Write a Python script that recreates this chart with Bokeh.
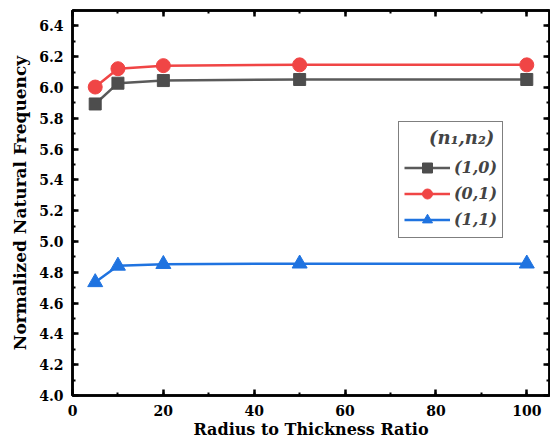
from bokeh.plotting import figure
from bokeh.models import (LinearAxis, SingleIntervalTicker, NumeralTickFormatter, Range1d,
                          Legend, LegendItem, CustomJSTickFormatter)
from bokeh.embed import file_html
from bokeh.resources import INLINE

ratio = [5, 10, 20, 50, 100]
mode_10 = [5.893, 6.028, 6.045, 6.052, 6.052]
mode_01 = [6.003, 6.122, 6.142, 6.147, 6.147]
mode_11 = [4.735, 4.842, 4.853, 4.856, 4.856]

series_labels = ["(1,0)", "(0,1)", "(1,1)"]
legend_title = "(n\u2081,n\u2082)"
x_label = "Radius to Thickness Ratio"
y_label = "Normalized Natural Frequency"

FONT = "DejaVu Serif"

p = figure(width=550, height=444, output_backend="svg", toolbar_location=None,
           x_range=Range1d(0, 105), y_range=Range1d(4.0, 6.5),
           min_border_left=72, min_border_right=1, min_border_top=10, min_border_bottom=49)
p.xgrid.visible = False
p.ygrid.visible = False
p.outline_line_color = "black"
p.outline_line_width = 2.5

def style_axis(ax, show_labels=True):
    ax.axis_line_width = 2.5
    ax.axis_line_color = "black"
    ax.major_tick_in = 6
    ax.major_tick_out = 0
    ax.minor_tick_in = 3
    ax.minor_tick_out = 0
    ax.major_tick_line_width = 2.5
    ax.minor_tick_line_width = 2
    ax.major_tick_line_color = "black"
    ax.minor_tick_line_color = "black"
    if show_labels:
        ax.major_label_text_font = FONT
        ax.major_label_text_font_style = "bold"
        ax.major_label_text_font_size = "14px"
        ax.major_label_text_color = "black"
        ax.axis_label_text_font = FONT
        ax.axis_label_text_font_style = "bold"
        ax.axis_label_text_color = "black"
    else:
        ax.formatter = CustomJSTickFormatter(code="return '';")
        ax.major_label_standoff = 0

xt = SingleIntervalTicker(interval=20, num_minor_ticks=2)
yt = SingleIntervalTicker(interval=0.2, num_minor_ticks=2)

p.xaxis.ticker = xt
p.yaxis.ticker = yt
p.yaxis.formatter = NumeralTickFormatter(format="0.0")
p.xaxis.axis_label = x_label
p.yaxis.axis_label = y_label
style_axis(p.xaxis[0])
style_axis(p.yaxis[0])
p.xaxis.axis_label_text_font_size = "16px"
p.yaxis.axis_label_text_font_size = "17px"
p.xaxis.axis_label_standoff = 1
p.yaxis.axis_label_standoff = 6
p.xaxis.major_label_standoff = 9
p.yaxis.major_label_standoff = 9

top = LinearAxis(ticker=SingleIntervalTicker(interval=20, num_minor_ticks=2))
right = LinearAxis(ticker=SingleIntervalTicker(interval=0.2, num_minor_ticks=2))
style_axis(top, False)
style_axis(right, False)
p.add_layout(top, "above")
p.add_layout(right, "right")

c10, c01, c11 = "#4d4d4d", "#f04545", "#1f73e0"
l1 = p.line(ratio, mode_10, line_color="#5a5a5a", line_width=2.5)
m1 = p.scatter(ratio, mode_10, marker="square", size=12, fill_color=c10, line_color=c10)
l2 = p.line(ratio, mode_01, line_color=c01, line_width=2.5)
m2 = p.scatter(ratio, mode_01, marker="circle", size=14, fill_color=c01, line_color=c01)
l3 = p.line(ratio, mode_11, line_color=c11, line_width=2.5)
m3 = p.scatter(ratio, mode_11, marker="triangle", size=15, fill_color=c11, line_color=c11)

legend = Legend(items=[LegendItem(label=series_labels[0], renderers=[l1, m1]),
                       LegendItem(label=series_labels[1], renderers=[l2, m2]),
                       LegendItem(label=series_labels[2], renderers=[l3, m3])],
                location=(326, 157))
legend.title = "\u00a0\u00a0\u00a0\u00a0" + legend_title
legend.title_text_font = FONT
legend.title_text_font_style = "bold italic"
legend.title_text_font_size = "18px"
legend.title_standoff = 7
legend.label_text_font = FONT
legend.label_text_font_style = "bold italic"
legend.label_text_font_size = "16px"
legend.glyph_width = 46
legend.glyph_height = 25
legend.label_height = 25
legend.spacing = 1
legend.padding = 5
legend.margin = 0
legend.label_standoff = 4
legend.border_line_color = "black"
legend.border_line_width = 1.5
legend.background_fill_alpha = 1
p.add_layout(legend, "center")

open("out.html", "w").write(file_html(p, INLINE))
